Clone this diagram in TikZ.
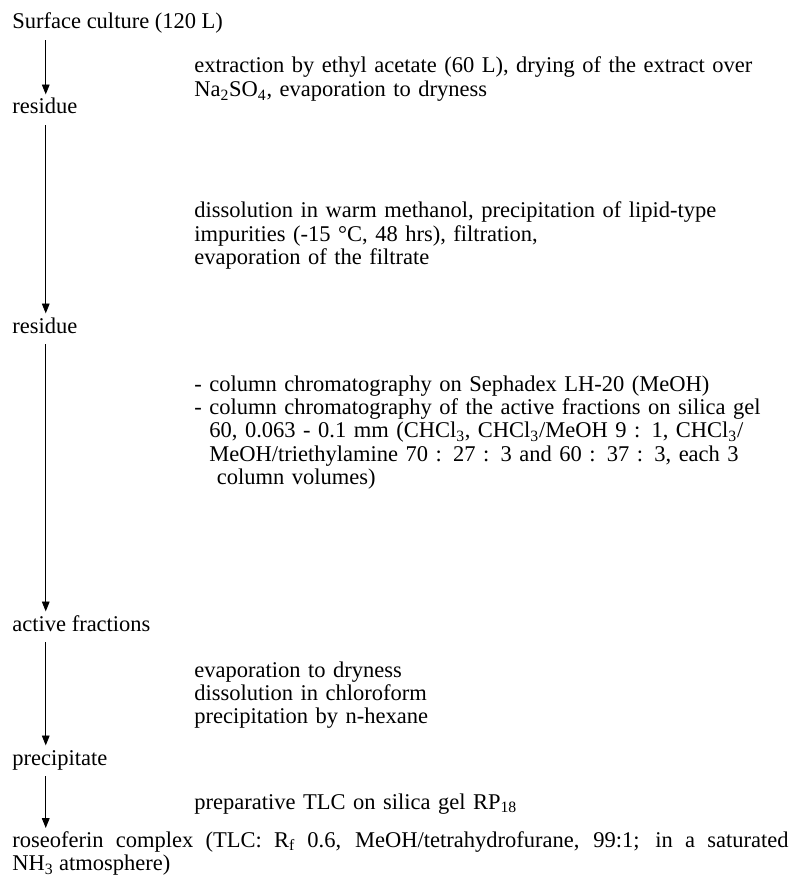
\documentclass[tikz,border=0pt]{standalone}
\usepackage{fontspec}
\setmainfont{Liberation Serif}
\usetikzlibrary{arrows.meta}
\tikzset{
    scheme/.style={x=0.025cm, y=-0.025cm, >={Triangle[width=5.5pt,length=7pt]}, line width=0.6pt,
        font=\fontsize{16}{16.7}\selectfont},
    product/.style={anchor=base west, inner sep=0pt, text height=0.41cm, text depth=0.12cm},
    treatment/.style={anchor=base west, inner sep=0pt, align=left, text width=15cm},
    flow/.style={->, shorten <=0.15cm, shorten >=0.07cm},
}

\begin{document}
\begin{tikzpicture}[scheme]
    \useasboundingbox (0,0) rectangle (789,880);

    % products down the left side
    \node[product] (culture)  at (12,29)  {Surface culture (120 L)};
    \node[product] (residueA) at (12,114) {residue};
    \node[product] (residueB) at (12,333) {residue};
    \node[product] (active)   at (12,631) {active fractions};
    \node[product] (precip)   at (12,765) {precipitate};
    \node[anchor=base west, inner sep=0pt, text width=19.4cm, align=justify] (complex) at (12,847)
        {roseoferin complex (TLC: R\textsubscript{f} 0.6, MeOH/tetrahydrofurane, 99:1; in a saturated\linebreak
         NH\textsubscript{3} atmosphere)};

    % treatments beside the arrows
    \node[treatment] (extract) at (194,73)
        {extraction by ethyl acetate (60 L), drying of the extract over\\
         Na\textsubscript{2}SO\textsubscript{4}, evaporation to dryness};
    \node[treatment] (dissolve) at (194,218)
        {dissolution in warm methanol, precipitation of lipid-type\\
         impurities (-15 °C, 48 hrs), filtration,\\
         evaporation of the filtrate};
    \node[treatment] (column) at (194,391)
        {- column chromatography on Sephadex LH-20 (MeOH)\\
         - column chromatography of the active fractions on silica gel\\
         \hphantom{- }60, 0.063 - 0.1 mm (CHCl\textsubscript{3}, CHCl\textsubscript{3}/MeOH 9 : 1, CHCl\textsubscript{3}/\\
         \hphantom{- }MeOH/triethylamine 70 : 27 : 3 and 60 : 37 : 3, each 3\\
         \hphantom{- }\ column volumes)};
    \node[treatment] (evap) at (194,677)
        {evaporation to dryness\\
         dissolution in chloroform\\
         precipitation by n-hexane};
    \node[treatment] (tlc) at (194,809)
        {preparative TLC on silica gel RP\textsubscript{18}};

    \draw[flow] ([xshift=24]culture.south west)  -- ([xshift=24]residueA.north west);
    \draw[flow] ([xshift=24]residueA.south west) -- ([xshift=24]residueB.north west);
    \draw[flow] ([xshift=24]residueB.south west) -- ([xshift=24]active.north west);
    \draw[flow] ([xshift=24]active.south west)   -- ([xshift=24]precip.north west);
    \draw[flow] ([xshift=24]precip.south west)   -- ([xshift=24]complex.north west);
\end{tikzpicture}
\end{document}
